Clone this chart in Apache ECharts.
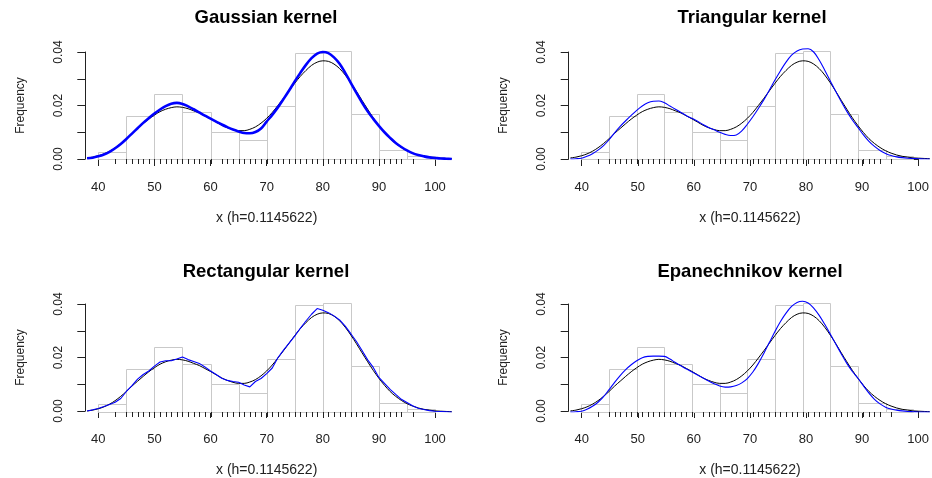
<!DOCTYPE html>
<html>
<head>
<meta charset="utf-8">
<script src="https://cdn.jsdelivr.net/npm/echarts@6/dist/echarts.min.js"></script>
<style>
html, body { margin: 0; padding: 0; background: #ffffff; }
#chart { width: 932px; height: 478px; }
</style>
</head>
<body>
<div id="chart"></div>
<script>
// Evaluation points of the density curves
const densityX = [
  38, 39, 40, 41, 42, 43, 44, 45, 46, 47,
  48, 49, 50, 51, 52, 53, 54, 55, 56, 57,
  58, 59, 60, 61, 62, 63, 64, 65, 66, 67,
  68, 69, 70, 71, 72, 73, 74, 75, 76, 77,
  78, 79, 80, 81, 82, 83, 84, 85, 86, 87,
  88, 89, 90, 91, 92, 93, 94, 95, 96, 97,
  98, 99, 100, 101, 102, 103
];

// Reference density (black curve, identical in every panel)
const referenceDensity = [
  0.0004, 0.0007, 0.0012, 0.0019, 0.0029, 0.0042, 0.0058, 0.0076, 0.0096, 0.0114,
  0.0132, 0.0149, 0.0164, 0.0177, 0.0186, 0.0192, 0.0195, 0.0193, 0.0188, 0.0180,
  0.0172, 0.0161, 0.0150, 0.0138, 0.0126, 0.0117, 0.0110, 0.0106, 0.0106, 0.0111,
  0.0120, 0.0134, 0.0152, 0.0174, 0.0200, 0.0227, 0.0255, 0.0283, 0.0309, 0.0331,
  0.0350, 0.0362, 0.0367, 0.0365, 0.0355, 0.0338, 0.0314, 0.0285, 0.0253, 0.0219,
  0.0186, 0.0154, 0.0125, 0.0099, 0.0076, 0.0058, 0.0043, 0.0031, 0.0022, 0.0015,
  0.0010, 0.0007, 0.0004, 0.0003, 0.0002, 0.0001
];

// Kernel estimates (blue curves)
const gaussianDensity = [
  0.0003, 0.0005, 0.0010, 0.0017, 0.0027, 0.0040, 0.0056, 0.0075, 0.0095, 0.0115,
  0.0135, 0.0153, 0.0170, 0.0185, 0.0198, 0.0207, 0.0210, 0.0206, 0.0197, 0.0186,
  0.0174, 0.0162, 0.0151, 0.0140, 0.0129, 0.0119, 0.0110, 0.0103, 0.0097, 0.0096,
  0.0101, 0.0114, 0.0140, 0.0165, 0.0193, 0.0224, 0.0256, 0.0290, 0.0322, 0.0352,
  0.0377, 0.0394, 0.0400, 0.0396, 0.0380, 0.0356, 0.0322, 0.0285, 0.0247, 0.0211,
  0.0178, 0.0150, 0.0124, 0.0100, 0.0079, 0.0060, 0.0045, 0.0032, 0.0022, 0.0015,
  0.0010, 0.0006, 0.0004, 0.0002, 0.0001, 0.0000
];

const triangularDensity = [
  0.0000, 0.0001, 0.0003, 0.0010, 0.0020, 0.0033, 0.0050, 0.0072, 0.0098, 0.0122,
  0.0143, 0.0163, 0.0182, 0.0198, 0.0210, 0.0216, 0.0217, 0.0210, 0.0198, 0.0186,
  0.0174, 0.0162, 0.0152, 0.0141, 0.0129, 0.0118, 0.0109, 0.0100, 0.0092, 0.0088,
  0.0090, 0.0105, 0.0130, 0.0158, 0.0189, 0.0222, 0.0258, 0.0295, 0.0330, 0.0362,
  0.0388, 0.0404, 0.0411, 0.0412, 0.0400, 0.0370, 0.0332, 0.0292, 0.0252, 0.0214,
  0.0178, 0.0146, 0.0118, 0.0090, 0.0066, 0.0047, 0.0032, 0.0021, 0.0013, 0.0008,
  0.0005, 0.0003, 0.0002, 0.0001, 0.0000, 0.0000
];

const rectangularDensity = [
  0.0004, 0.0008, 0.0013, 0.0020, 0.0028, 0.0036, 0.0050, 0.0076, 0.0098, 0.0122,
  0.0139, 0.0152, 0.0170, 0.0185, 0.0190, 0.0190, 0.0196, 0.0204, 0.0194, 0.0187,
  0.0180, 0.0167, 0.0152, 0.0139, 0.0125, 0.0117, 0.0113, 0.0110, 0.0100, 0.0093,
  0.0113, 0.0124, 0.0142, 0.0163, 0.0201, 0.0229, 0.0255, 0.0281, 0.0310, 0.0337,
  0.0362, 0.0383, 0.0377, 0.0368, 0.0356, 0.0341, 0.0318, 0.0290, 0.0261, 0.0228,
  0.0193, 0.0165, 0.0128, 0.0106, 0.0084, 0.0065, 0.0047, 0.0035, 0.0023, 0.0014,
  0.0009, 0.0005, 0.0003, 0.0002, 0.0001, 0.0000
];

const epanechnikovDensity = [
  0.0000, 0.0001, 0.0003, 0.0010, 0.0021, 0.0036, 0.0057, 0.0083, 0.0110, 0.0135,
  0.0157, 0.0175, 0.0190, 0.0201, 0.0206, 0.0207, 0.0207, 0.0206, 0.0196, 0.0183,
  0.0171, 0.0159, 0.0148, 0.0137, 0.0126, 0.0115, 0.0105, 0.0096, 0.0092, 0.0093,
  0.0098, 0.0108, 0.0124, 0.0148, 0.0180, 0.0218, 0.0258, 0.0298, 0.0335, 0.0366,
  0.0391, 0.0406, 0.0410, 0.0404, 0.0385, 0.0358, 0.0325, 0.0289, 0.0252, 0.0215,
  0.0180, 0.0150, 0.0125, 0.0097, 0.0070, 0.0047, 0.0030, 0.0018, 0.0011, 0.0007,
  0.0004, 0.0002, 0.0001, 0.0000, 0.0000, 0.0000
];

// Histogram (density scale)
const histBreaks = [40, 45, 50, 55, 60, 65, 70, 75, 80, 85, 90, 95, 100];
const histDensity = [0.0028, 0.0161, 0.0242, 0.0177, 0.0102, 0.0072, 0.0198, 0.0398, 0.0405, 0.0170, 0.0034, 0.0012];

// Observed values shown as a rug
const rugValues = [
  43, 45, 46, 47, 48, 49, 50, 51, 52, 53, 54, 55, 56, 57, 58, 59, 60,
  62, 63, 64, 65, 66, 67, 68, 69, 70, 71, 72, 73, 74, 75, 76, 77, 78, 79,
  80, 81, 82, 83, 84, 85, 86, 87, 88, 89, 90, 91, 92, 93, 94, 96
];

// Axis ticks and labels
const xTicks = [40, 50, 60, 70, 80, 90, 100];
const yTickLabels = ['0.00', '', '0.02', '', '0.04'];
const xAxisTitle = 'x (h=0.1145622)';
const yAxisTitle = 'Frequency';

const panelTitles = ['Gaussian kernel', 'Triangular kernel', 'Rectangular kernel', 'Epanechnikov kernel'];
const panelCurves = [gaussianDensity, triangularDensity, rectangularDensity, epanechnikovDensity];

// Plot region in data units (wider than the drawn axes, as in base graphics)
const plotX = [37.6, 103.4];
const plotY = [0, 0.046];
const axisY = [0, 0.04];

// Layout of the 2x2 panels: pixel box of the axis frame (x 40..100, y 0..0.04)
const layout = [
  { left: 98.3,  top: 52,  width: 336.7, height: 107, titleX: 266, titleY: 8,   blueWidth: 2.6, smooth: 0.35 },
  { left: 581.7, top: 52,  width: 338.3, height: 107, titleX: 752, titleY: 8,   blueWidth: 1.1, smooth: 0.35 },
  { left: 98.3,  top: 304, width: 336.7, height: 108, titleX: 266, titleY: 262, blueWidth: 1.1, smooth: false },
  { left: 581.7, top: 304, width: 338.3, height: 108, titleX: 750, titleY: 262, blueWidth: 1.1, smooth: 0.35 }
];

const FONT = '"Liberation Sans", Arial, Helvetica, sans-serif';
const AXIS_COLOR = '#222222';

const toPairs = (xs, ys) => xs.map((x, i) => [x, ys[i]]);
const histBins = histDensity.map((d, i) => [histBreaks[i], histBreaks[i + 1], d]);

const grids = [], xAxes = [], yAxes = [], titles = [], series = [];

layout.forEach((box, i) => {
  const xMin = xTicks[0], xMax = xTicks[xTicks.length - 1];
  const pxPerX = box.width / (xMax - xMin);
  const pxPerY = box.height / (axisY[1] - axisY[0]);

  // frame grid: carries the visible axes
  grids.push({ left: box.left, top: box.top, width: box.width, height: box.height });
  // data grid: same scale, extended range so curves can run past the axes
  grids.push({
    left: box.left - (xMin - plotX[0]) * pxPerX,
    top: box.top - (plotY[1] - axisY[1]) * pxPerY,
    width: (plotX[1] - plotX[0]) * pxPerX,
    height: (plotY[1] - plotY[0]) * pxPerY
  });
  const frame = 2 * i, data = 2 * i + 1;

  titles.push({
    text: panelTitles[i],
    left: box.titleX,
    top: box.titleY,
    textAlign: 'center',
    padding: 0,
    textStyle: { fontFamily: FONT, fontSize: 18.5, fontWeight: 'bold', color: '#000000' }
  });

  xAxes.push({
    gridIndex: frame,
    type: 'value',
    min: xMin,
    max: xMax,
    interval: 10,
    offset: 5,
    axisLine: { show: true, lineStyle: { color: AXIS_COLOR, width: 1 } },
    axisTick: { show: true, length: 7, lineStyle: { color: AXIS_COLOR, width: 1 } },
    axisLabel: { show: true, color: AXIS_COLOR, fontFamily: FONT, fontSize: 13, margin: 17, showMinLabel: true, showMaxLabel: true },
    splitLine: { show: false },
    name: xAxisTitle,
    nameLocation: 'middle',
    nameGap: 47,
    nameTextStyle: { color: AXIS_COLOR, fontFamily: FONT, fontSize: 14 }
  });
  xAxes.push({
    gridIndex: data, type: 'value', min: plotX[0], max: plotX[1], show: false
  });

  yAxes.push({
    gridIndex: frame,
    type: 'value',
    min: axisY[0],
    max: axisY[1],
    interval: 0.01,
    offset: 13,
    axisLine: { show: true, lineStyle: { color: AXIS_COLOR, width: 1 } },
    axisTick: { show: true, length: 8, lineStyle: { color: AXIS_COLOR, width: 1 } },
    axisLabel: {
      show: true, rotate: 90, margin: 21, color: AXIS_COLOR, fontFamily: FONT, fontSize: 12,
      showMinLabel: true, showMaxLabel: true,
      formatter: v => yTickLabels[Math.round(v / 0.01)] || ''
    },
    splitLine: { show: false },
    name: yAxisTitle,
    nameLocation: 'middle',
    nameGap: 59,
    nameTextStyle: { color: AXIS_COLOR, fontFamily: FONT, fontSize: 12 }
  });
  yAxes.push({
    gridIndex: data, type: 'value', min: plotY[0], max: plotY[1], show: false
  });

  // histogram bins
  series.push({
    type: 'custom',
    xAxisIndex: data, yAxisIndex: data,
    silent: true,
    data: histBins,
    encode: { x: [0, 1], y: 2 },
    renderItem: (params, api) => {
      const p0 = api.coord([api.value(0), 0]);
      const p1 = api.coord([api.value(1), api.value(2)]);
      const x0 = Math.round(p0[0]), x1 = Math.round(p1[0]);
      const y0 = Math.round(p0[1]), y1 = Math.round(p1[1]);
      return {
        type: 'rect',
        shape: { x: x0 + 0.5, y: y1 + 0.5, width: x1 - x0, height: y0 - y1 },
        style: { fill: '#ffffff', stroke: '#c9c9c9', lineWidth: 1 }
      };
    },
    z: 1
  });

  // reference density
  series.push({
    type: 'line',
    xAxisIndex: data, yAxisIndex: data,
    data: toPairs(densityX, referenceDensity),
    smooth: 0.35,
    showSymbol: false,
    symbol: 'none',
    silent: true,
    lineStyle: { color: '#000000', width: 1 },
    z: 2
  });

  // kernel estimate
  series.push({
    type: 'line',
    xAxisIndex: data, yAxisIndex: data,
    data: toPairs(densityX, panelCurves[i]),
    smooth: box.smooth,
    showSymbol: false,
    symbol: 'none',
    silent: true,
    lineStyle: { color: '#0000ff', width: box.blueWidth },
    z: 3
  });

  // rug, rising from the x axis line
  series.push({
    type: 'custom',
    xAxisIndex: data, yAxisIndex: data,
    silent: true,
    clip: false,
    data: rugValues.map(v => [v, 0]),
    encode: { x: 0, y: 1 },
    renderItem: (params, api) => {
      const p = api.coord([api.value(0), 0]);
      const x = Math.round(p[0]) + 0.5;
      return {
        type: 'line',
        shape: { x1: x, y1: p[1] + 5, x2: x, y2: p[1] },
        style: { stroke: AXIS_COLOR, lineWidth: 1 }
      };
    },
    z: 4
  });
});

const chart = echarts.init(document.getElementById('chart'), null, { renderer: 'canvas' });
chart.setOption({
  animation: false,
  backgroundColor: '#ffffff',
  title: titles,
  grid: grids,
  xAxis: xAxes,
  yAxis: yAxes,
  series: series
});
</script>
</body>
</html>
